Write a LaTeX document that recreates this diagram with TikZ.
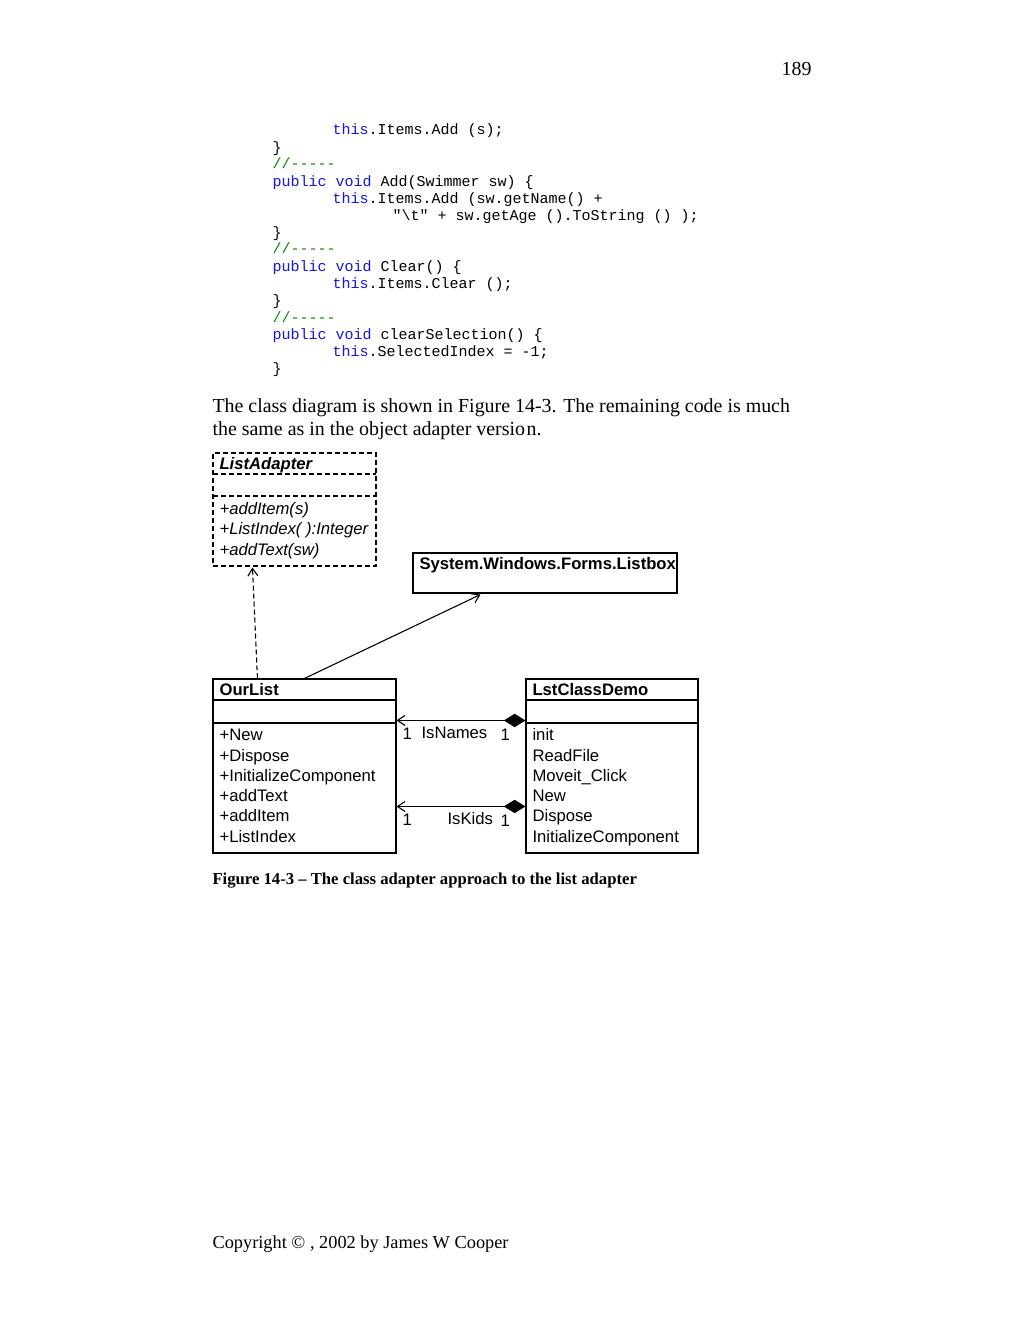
\documentclass[tikz,border=0pt]{standalone}
\usepackage{fontspec}
\setmainfont{Liberation Serif}
\setsansfont{Liberation Sans}
\newfontfamily\codefont{Liberation Mono}
\usetikzlibrary{arrows.meta,fit,calc}
\definecolor{kwblue}{RGB}{20,20,235}
\definecolor{cmtgreen}{RGB}{0,140,0}
\newcommand\kw[1]{\textcolor{kwblue}{#1}}
\newcommand\cmt{\textcolor{cmtgreen}{//-{}-{}-{}-{}-}}
\begin{document}
\begin{tikzpicture}[x=0.6pt,y=-0.6pt,line width=0.65pt,
	code/.style={anchor=mid west,inner sep=0,yshift=-1.8pt,font=\codefont\fontsize{9}{10}\selectfont},
	txt/.style={anchor=mid west,inner sep=0,yshift=-2pt,font=\fontsize{11.95}{14}\selectfont},
	uml/.style={anchor=mid west,inner sep=0,yshift=-1.6pt,font=\sffamily\fontsize{10}{12}\selectfont},
	umlbox/.style={draw,inner sep=0},
	dsh/.style={dash pattern=on 3pt off 1.8pt},
	barb/.style={-{Straight Barb[length=4.5pt,width=6pt]}}]
	\useasboundingbox[fill=white] (0,0) rectangle (1023,1324);
	\node[txt,anchor=mid east] (pg) at (812,68) {189};
	% code
	\node[code] (c1) at (332,128) {\kw{this}.Items.Add (s);};
	\node[code] (c2) at (272,146) {\}};
	\node[code] (c3) at (272,162) {\cmt};
	\node[code] (c4) at (272,180) {\kw{public} \kw{void} Add(Swimmer sw) \{};
	\node[code] (c5) at (332,197) {\kw{this}.Items.Add (sw.getName() +};
	\node[code] (c6) at (392,214) {"\string\t" + sw.getAge ().ToString () );};
	\node[code] (c7) at (272,231) {\}};
	\node[code] (c8) at (272,247) {\cmt};
	\node[code] (c9) at (272,265) {\kw{public} \kw{void} Clear() \{};
	\node[code] (c10) at (332,282) {\kw{this}.Items.Clear ();};
	\node[code] (c11) at (272,299) {\}};
	\node[code] (c12) at (272,316) {\cmt};
	\node[code] (c13) at (272,333) {\kw{public} \kw{void} clearSelection() \{};
	\node[code] (c14) at (332,350) {\kw{this}.SelectedIndex = -1;};
	\node[code] (c15) at (272,367) {\}};
	\node[txt] (p1) at (212,405) {The class diagram is shown in Figure 14-3. The remaining code is much};
	\node[txt] (p2) at (212,428) {the same as in the object adapter versio\kern1pt n.};
	% classes
	\node[umlbox,dsh,fit={(213,453)(376,566)}] (la) {};
	\draw[dsh] (213,474) -- (376,474) (213,496) -- (376,496);
	\node[uml,font=\sffamily\bfseries\itshape\fontsize{10}{12}\selectfont] (lat) at (219,463) {ListAdapter};
	\node[uml,font=\sffamily\itshape\fontsize{10}{12}\selectfont] (la1) at (219,508) {+addItem(s)};
	\node[uml,font=\sffamily\itshape\fontsize{10}{12}\selectfont] (la2) at (219,528) {+ListIndex( ):Integer};
	\node[uml,font=\sffamily\itshape\fontsize{10}{12}\selectfont] (la3) at (219,549) {+addText(sw)};
	\node[umlbox,fit={(413,553)(677,593)}] (lb) {};
	\node[uml,font=\sffamily\bfseries\fontsize{10}{12}\selectfont] (lbt) at (419,563) {System.Windows.Forms.Listbox};
	\node[umlbox,fit={(213,679)(396,853)}] (ol) {};
	\draw (213,700) -- (396,700) (213,723) -- (396,723);
	\node[uml,font=\sffamily\bfseries\fontsize{10}{12}\selectfont] (olt) at (219,689) {OurList};
	\node[uml] (ol1) at (219,734) {+New};
	\node[uml] (ol2) at (219,755) {+Dispose};
	\node[uml] (ol3) at (219,775) {+InitializeComponent};
	\node[uml] (ol4) at (219,795) {+addText};
	\node[uml] (ol5) at (219,815) {+addItem};
	\node[uml] (ol6) at (219,836) {+ListIndex};
	\node[umlbox,fit={(526,679)(698,853)}] (dm) {};
	\draw (526,700) -- (698,700) (526,723) -- (698,723);
	\node[uml,font=\sffamily\bfseries\fontsize{10}{12}\selectfont] (dmt) at (532,689) {LstClassDemo};
	\node[uml] (dm1) at (532,734) {init};
	\node[uml] (dm2) at (532,755) {ReadFile};
	\node[uml] (dm3) at (532,775) {Moveit\_Click};
	\node[uml] (dm4) at (532,795) {New};
	\node[uml] (dm5) at (532,815) {Dispose};
	\node[uml] (dm6) at (532,836) {InitializeComponent};
	% links
	\draw[barb,dsh] ($(ol.north west)+(45,0)$) -- ($(la.south west)+(40,1)$);
	\draw[barb] ($(ol.north west)+(92,0)$) -- ($(lb.south west)+(68,1)$);
	\draw[{Diamond[length=13pt,width=8pt]}-{Straight Barb[length=4.5pt,width=6pt]}] ($(dm.north west)+(0,42)$) -- ($(ol.north east)+(0,42)$);
	\draw[{Diamond[length=13pt,width=8pt]}-{Straight Barb[length=4.5pt,width=6pt]}] ($(dm.north west)+(0,128)$) -- ($(ol.north east)+(0,128)$);
	\node[uml] (n1) at (402,733) {1};
	\node[uml] (n2) at (421,732) {IsNames};
	\node[uml] (n3) at (500,734) {1};
	\node[uml] (k1) at (402,819) {1};
	\node[uml] (k2) at (447,818) {IsKids};
	\node[uml] (k3) at (500,820) {1};
	\node[txt,font=\bfseries\fontsize{10}{12}\selectfont] (cap) at (212,877) {Figure 14-3 -- The class adapter approach to the list adapter};
	\node[txt,font=\fontsize{11}{14}\selectfont] (copy) at (212,1241) {Copyright © , 2002 by James W Cooper};
\end{tikzpicture}
\end{document}
